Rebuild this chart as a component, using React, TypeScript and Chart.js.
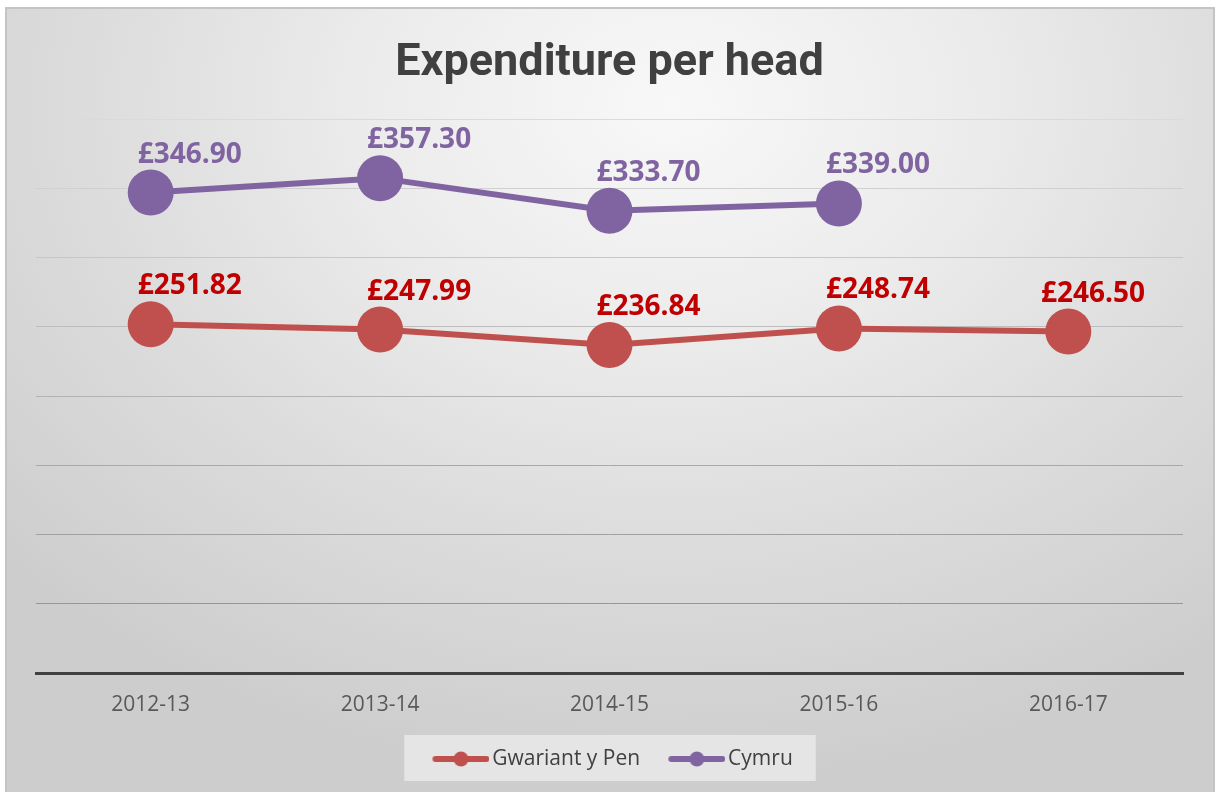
import React, { useEffect, useRef } from "react";
import { Chart, registerables } from "chart.js";

Chart.register(...registerables);

const chartTitle = "Expenditure per head";
const categories = ["2012-13", "2013-14", "2014-15", "2015-16", "2016-17"];
const seriesNames = ["Gwariant y Pen", "Cymru"];
const gwariantValues = [251.82, 247.99, 236.84, 248.74, 246.5];
const cymruValues: (number | null)[] = [346.9, 357.3, 333.7, 339.0, null];
const yMin = 0;
const yMax = 400;
const yStep = 50;

const RED = "#c0504d";
const PURPLE = "#8064a2";
const RED_TEXT = "#c00000";
const PURPLE_TEXT = "#8064a2";

function makeLegendImage(color: string): HTMLCanvasElement {
  const c = document.createElement("canvas");
  c.width = 83;
  c.height = 18;
  const g = c.getContext("2d")!;
  g.strokeStyle = color;
  g.lineWidth = 6;
  g.lineCap = "round";
  g.beginPath();
  g.moveTo(29, 9);
  g.lineTo(80, 9);
  g.stroke();
  g.fillStyle = color;
  g.beginPath();
  g.arc(54.5, 9, 7.5, 0, Math.PI * 2);
  g.fill();
  return c;
}

const labelPlugin = {
  id: "valueLabels",
  afterDatasetsDraw(chart: any) {
    const ctx = chart.ctx;
    const area = chart.chartArea;
    ctx.save();
    ctx.font = "bold 28px 'Open Sans'";
    ctx.textAlign = "left";
    ctx.textBaseline = "alphabetic";
    chart.data.datasets.forEach((ds: any, di: number) => {
      const meta = chart.getDatasetMeta(di);
      ctx.fillStyle = ds.labelColor;
      ds.data.forEach((v: number | null, i: number) => {
        if (v === null || v === undefined) return;
        const pt = meta.data[i];
        const text = "£" + v.toFixed(2);
        const w = ctx.measureText(text).width;
        let x = pt.x - 13;
        const maxRight = area.right - 38;
        if (x + w > maxRight) x = maxRight - w;
        ctx.fillText(text, x, pt.y - 30);
      });
    });
    ctx.restore();
  },
};

const legendShiftPlugin = {
  id: "legendShift",
  afterLayout(chart: any) {
    const lg = chart.legend;
    if (!lg) return;
    lg.left -= 6;
    lg.right -= 6;
  },
};

const legendBgPlugin = {
  id: "legendBg",
  beforeDraw(chart: any) {
    const lg = chart.legend;
    if (!lg || !lg.legendHitBoxes || !lg.legendHitBoxes.length) return;
    const hb = lg.legendHitBoxes;
    const first = hb[0];
    const last = hb[hb.length - 1];
    const cy = first.top + first.height / 2;
    const left = first.left - 10;
    const right = last.left + last.width + 23;
    const ctx = chart.ctx;
    ctx.save();
    ctx.fillStyle = "rgba(236,236,236,0.75)";
    ctx.fillRect(left, cy - 24, right - left, 46);
    ctx.restore();
  },
};

function gridColor(v: number): string {
  if (v === 0) return "rgba(0,0,0,0)";
  const t = (v - 50) / 350;
  const c = Math.round(150 + t * (218 - 150));
  return `rgb(${c},${c},${c})`;
}

export default function App() {
  const ref = useRef<HTMLCanvasElement | null>(null);

  useEffect(() => {
    if (!ref.current) return;
    const legendImages = [makeLegendImage(RED), makeLegendImage(PURPLE)];
    const chart = new Chart(ref.current, {
      type: "line",
      data: {
        labels: categories,
        datasets: [
          {
            label: seriesNames[0],
            data: gwariantValues,
            borderColor: RED,
            backgroundColor: RED,
            borderWidth: 6,
            pointRadius: 23,
            pointHoverRadius: 23,
            pointBackgroundColor: RED,
            pointBorderWidth: 0,
            tension: 0,
            labelColor: RED_TEXT,
          } as any,
          {
            label: seriesNames[1],
            data: cymruValues,
            borderColor: PURPLE,
            backgroundColor: PURPLE,
            borderWidth: 6,
            pointRadius: 23,
            pointHoverRadius: 23,
            pointBackgroundColor: PURPLE,
            pointBorderWidth: 0,
            tension: 0,
            labelColor: PURPLE_TEXT,
          } as any,
        ],
      },
      options: {
        animation: false,
        responsive: false,
        maintainAspectRatio: false,
        devicePixelRatio: 1,
        events: [],
        layout: { padding: { left: 36, right: 36, top: 0, bottom: 12.5 } },
        scales: {
          x: {
            type: "category",
            offset: true,
            grid: { display: false },
            border: { display: true, color: "#404040", width: 3 },
            ticks: {
              color: "#595959",
              font: { family: "'Open Sans'", size: 21 },
              padding: 11,
              maxRotation: 0,
            },
            afterFit(s: any) {
              s.height = 65.5;
            },
          },
          y: {
            min: yMin,
            max: yMax,
            ticks: { display: false, stepSize: yStep },
            border: { display: false },
            grid: {
              drawTicks: false,
              lineWidth: 1,
              color: (c: any) => gridColor(c.tick ? c.tick.value : 0),
            },
            afterFit(s: any) {
              s.width = 0;
            },
          },
        },
        plugins: {
          title: {
            display: true,
            text: chartTitle,
            color: "#404040",
            font: { family: "Roboto", size: 45, weight: "bold" },
            padding: { top: 37, bottom: 28 },
          },
          legend: {
            display: true,
            position: "bottom",
            labels: {
              usePointStyle: true,
              pointStyleWidth: 67.5,
              padding: 10,
              color: "#404040",
              font: { family: "'Open Sans'", size: 21 },
              generateLabels(ch: any) {
                const items = (Chart.defaults.plugins.legend.labels as any).generateLabels(ch);
                items.forEach((it: any, i: number) => {
                  it.pointStyle = legendImages[i];
                  it.fontColor = "#404040";
                });
                return items;
              },
            },
          },
          tooltip: { enabled: false },
        },
      },
      plugins: [legendShiftPlugin, labelPlugin, legendBgPlugin],
    });
    return () => chart.destroy();
  }, []);

  return (
    <div
      style={{
        position: "absolute",
        left: 0,
        top: 0,
        width: 1219,
        height: 792,
        overflow: "hidden",
        background: "#ffffff",
      }}
    >
      <div
        style={{
          position: "absolute",
          left: 5,
          top: 7,
          width: 1206,
          height: 800,
          border: "2px solid #c4c4c4",
          background:
            "radial-gradient(ellipse 75% 85% at 55% 12%, #f8f8f8 0%, #ebebeb 35%, #dcdcdc 65%, #cdcdcd 100%)",
        }}
      />
      <canvas
        ref={ref}
        width={1219}
        height={792}
        style={{ position: "absolute", left: 0, top: 0, width: 1219, height: 792 }}
      />
    </div>
  );
}
